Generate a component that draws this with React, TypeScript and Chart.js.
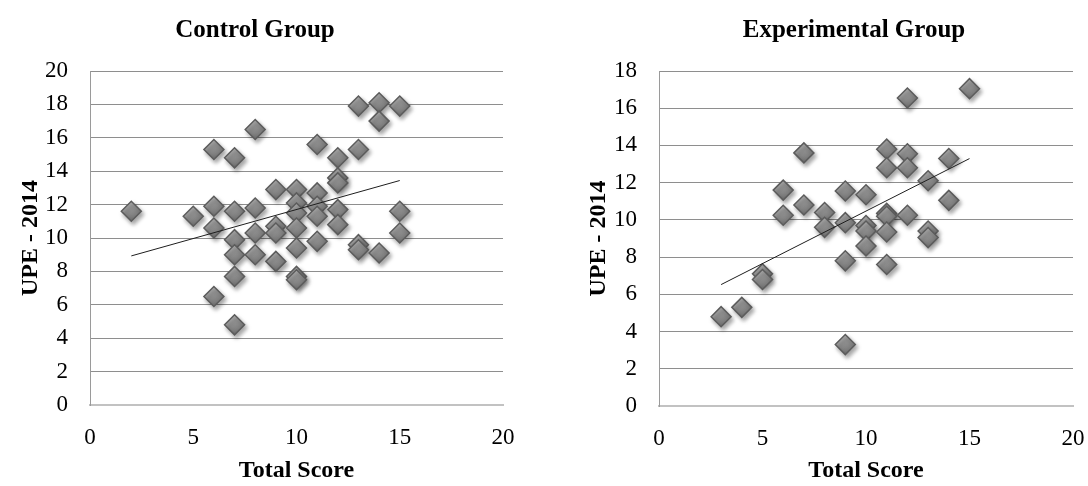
import React, { useEffect, useRef } from 'react';
import { Chart, registerables } from 'chart.js';

Chart.register(...registerables);

// ---- Data ----
const controlX = [
  2,
  5,
  6, 6, 6, 6,
  7, 7, 7, 7, 7, 7,
  8, 8, 8, 8,
  9, 9, 9, 9,
  10, 10, 10, 10, 10, 10, 10,
  11, 11, 11, 11, 11,
  12, 12, 12, 12, 12,
  13, 13, 13, 13,
  14, 14, 14,
  15, 15, 15,
];
const controlY = [
  11.6,
  11.3,
  15.3, 11.9, 10.6, 6.5,
  14.8, 11.6, 9.9, 9.0, 7.7, 4.8,
  16.5, 11.8, 10.3, 9.0,
  12.9, 10.7, 10.3, 8.6,
  12.9, 12.1, 11.5, 10.6, 9.4, 7.7, 7.5,
  15.6, 12.7, 11.9, 11.3, 9.8,
  14.8, 13.6, 13.3, 11.7, 10.8,
  17.9, 15.3, 9.6, 9.3,
  18.1, 17.0, 9.1,
  17.9, 11.6, 10.3,
];

const experimentalX = [
  3,
  4,
  5, 5,
  6, 6,
  7, 7,
  8, 8,
  9, 9, 9, 9,
  10, 10, 10, 10,
  11, 11, 11, 11, 11, 11,
  12, 12, 12, 12,
  13, 13, 13,
  14, 14,
  15,
];
const experimentalY = [
  4.8,
  5.3,
  7.1, 6.8,
  11.6, 10.25,
  13.6, 10.8,
  10.4, 9.6,
  11.55, 9.85, 7.8, 3.3,
  11.35, 9.7, 9.4, 8.6,
  13.8, 12.8, 10.35, 10.2, 9.35, 7.6,
  16.55, 13.55, 12.8, 10.25,
  12.1, 9.4, 9.05,
  13.3, 11.05,
  17.05,
];

const xTickValues = [0, 5, 10, 15, 20];
const controlYTicks = [0, 2, 4, 6, 8, 10, 12, 14, 16, 18, 20];
const experimentalYTicks = [0, 2, 4, 6, 8, 10, 12, 14, 16, 18];

const xTitle = 'Total Score';
const yTitle = 'UPE - 2014';

// ---- helpers ----
function linearFit(xs: number[], ys: number[]) {
  const n = xs.length;
  let sx = 0, sy = 0, sxx = 0, sxy = 0;
  for (let i = 0; i < n; i++) {
    sx += xs[i]; sy += ys[i]; sxx += xs[i] * xs[i]; sxy += xs[i] * ys[i];
  }
  const slope = (n * sxy - sx * sy) / (n * sxx - sx * sx);
  const intercept = (sy - slope * sx) / n;
  const xmin = Math.min(...xs);
  const xmax = Math.max(...xs);
  return [
    { x: xmin, y: intercept + slope * xmin },
    { x: xmax, y: intercept + slope * xmax },
  ];
}

const groupTitlePlugin = {
  id: 'groupTitle',
  afterDraw(chart: any, _args: any, opts: any) {
    const ctx = chart.ctx;
    ctx.save();
    ctx.font = `bold ${opts.size}px "Liberation Serif"`;
    ctx.fillStyle = '#000';
    ctx.textAlign = 'center';
    ctx.textBaseline = 'middle';
    ctx.fillText(opts.text, opts.x, opts.y);
    ctx.restore();
  },
};

const shadowPlugin = {
  id: 'markerShadow',
  beforeDatasetDraw(chart: any, args: any) {
    const ds = chart.data.datasets[args.index];
    if (ds && ds.label === 'scores') {
      const ctx = chart.ctx;
      ctx.save();
      ctx.shadowColor = 'rgba(0,0,0,0.35)';
      ctx.shadowBlur = 4;
      ctx.shadowOffsetX = 2;
      ctx.shadowOffsetY = 3;
    }
  },
  afterDatasetDraw(chart: any, args: any) {
    const ds = chart.data.datasets[args.index];
    if (ds && ds.label === 'scores') {
      chart.ctx.restore();
    }
  },
};

function diamondFill(c: any) {
  if (c.type !== 'data' || !c.parsed) return '#8c8c8c';
  const chart = c.chart;
  const xs = chart.scales.x;
  const ys = chart.scales.y;
  if (!xs || !ys) return '#8c8c8c';
  const px = xs.getPixelForValue(c.parsed.x);
  const py = ys.getPixelForValue(c.parsed.y);
  if (!isFinite(px) || !isFinite(py)) return '#8c8c8c';
  const g = chart.ctx.createLinearGradient(px - 5, py - 10, px + 5, py + 10);
  g.addColorStop(0, '#b8b8b8');
  g.addColorStop(0.5, '#8e8e8e');
  g.addColorStop(1, '#6a6a6a');
  return g;
}

const tickFont = { family: '"Liberation Serif"', size: 23 };
const axisTitleFont = { family: '"Liberation Serif"', size: 24, weight: 'bold' as const };

function makeConfig(
  xs: number[], ys: number[], yTicks: number[], title: string,
  titleX: number, rightPad: number, xScaleHeight: number, yScaleWidth: number, yTitlePad: number
) {
  const points = xs.map((x, i) => ({ x, y: ys[i] }));
  const trend = linearFit(xs, ys);
  const yMax = yTicks[yTicks.length - 1];
  return {
    type: 'scatter' as const,
    data: {
      datasets: [
        {
          label: 'trend',
          data: trend,
          showLine: true,
          pointRadius: 0,
          borderColor: '#1e1e1e',
          borderWidth: 1,
          fill: false,
          order: 0,
        },
        {
          label: 'scores',
          data: points,
          pointStyle: 'rectRot',
          pointRadius: 10,
          pointHoverRadius: 10,
          pointBackgroundColor: diamondFill,
          pointBorderColor: '#5c5c5c',
          pointBorderWidth: 1.5,
          order: 1,
        },
      ],
    },
    options: {
      responsive: false,
      animation: false as const,
      layout: { padding: { left: 0, right: rightPad, top: 71, bottom: 0 } },
      plugins: {
        legend: { display: false },
        tooltip: { enabled: false },
        title: { display: false },
        groupTitle: { text: title, x: titleX, y: 31, size: 25 },
      },
      scales: {
        x: {
          type: 'linear' as const,
          min: 0,
          max: 20,
          afterBuildTicks: (s: any) => { s.ticks = xTickValues.map((v) => ({ value: v })); },
          afterFit: (s: any) => {
            s.height = xScaleHeight;
            s.paddingLeft = Math.min(s.paddingLeft, 12);
            s.paddingRight = Math.min(s.paddingRight, 12);
          },
          grid: { display: false, drawTicks: false },
          border: { display: true, color: '#c2c2c2', width: 2 },
          ticks: { font: tickFont, color: '#000', padding: 19, maxRotation: 0 },
          title: { display: true, text: xTitle, font: axisTitleFont, color: '#000', padding: { top: 0, bottom: 1 } },
        },
        y: {
          type: 'linear' as const,
          min: 0,
          max: yMax,
          afterBuildTicks: (s: any) => { s.ticks = yTicks.map((v) => ({ value: v })); },
          afterFit: (s: any) => { s.width = yScaleWidth; },
          grid: {
            drawTicks: false,
            lineWidth: 1,
            color: (c: any) => (c.tick && c.tick.value === 0 ? 'rgba(0,0,0,0)' : '#8e8e8e'),
          },
          border: { display: true, color: '#9a9a9a', width: 1 },
          ticks: { font: tickFont, color: '#000', padding: 22 },
          title: { display: true, text: yTitle, font: axisTitleFont, color: '#000', padding: { top: yTitlePad, bottom: 0 } },
        },
      },
    },
    plugins: [groupTitlePlugin, shadowPlugin],
  };
}

function ScatterPanel(props: {
  xs: number[]; ys: number[]; yTicks: number[]; title: string;
  titleX: number; rightPad: number; xScaleHeight: number; yScaleWidth: number; yTitlePad: number;
}) {
  const ref = useRef<HTMLCanvasElement | null>(null);
  useEffect(() => {
    if (!ref.current) return;
    const chart = new Chart(
      ref.current,
      makeConfig(props.xs, props.ys, props.yTicks, props.title, props.titleX, props.rightPad,
        props.xScaleHeight, props.yScaleWidth, props.yTitlePad) as any
    );
    return () => chart.destroy();
  }, []);
  return <canvas ref={ref} width={544} height={486} style={{ display: 'block', width: 544, height: 486 }} />;
}

export default function App() {
  return (
    <div style={{ position: 'absolute', left: 0, top: 0, width: 1088, height: 486, display: 'flex', background: '#fff' }}>
      <ScatterPanel xs={controlX} ys={controlY} yTicks={controlYTicks} title="Control Group"
        titleX={255} rightPad={41} xScaleHeight={81} yScaleWidth={90} yTitlePad={16} />
      <ScatterPanel xs={experimentalX} ys={experimentalY} yTicks={experimentalYTicks} title="Experimental Group"
        titleX={310} rightPad={15} xScaleHeight={80} yScaleWidth={115} yTitlePad={40} />
    </div>
  );
}
